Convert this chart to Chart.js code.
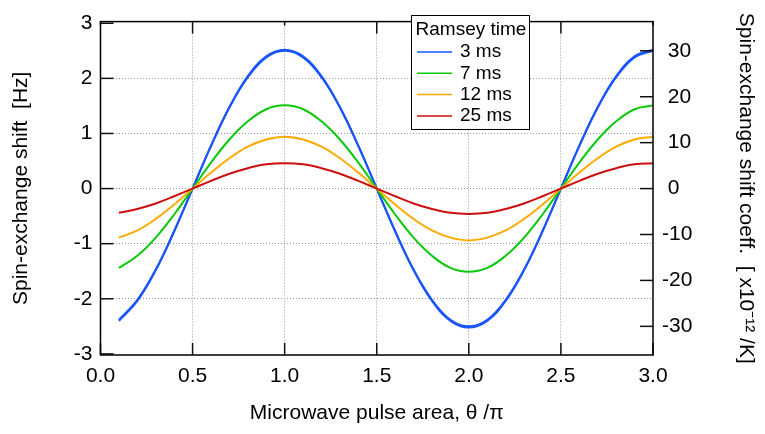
<!DOCTYPE html>
<html>
<head>
<meta charset="utf-8">
<script src="https://cdn.jsdelivr.net/npm/chart.js@4/dist/chart.umd.min.js"></script>
<style>
  html, body { margin: 0; padding: 0; background: #fff; }
</style>
</head>
<body>
<canvas id="chart" width="765" height="434"></canvas>
<script>
// pulse area theta/pi
const theta = [0.1, 0.2, 0.3, 0.4, 0.5, 0.6, 0.7, 0.8, 0.9, 1.0,
               1.1, 1.2, 1.3, 1.4, 1.5, 1.6, 1.7, 1.8, 1.9, 2.0,
               2.1, 2.2, 2.3, 2.4, 2.5, 2.6, 2.7, 2.8, 2.9, 3.0];

// spin-exchange shift [Hz]
const shift3ms = [-2.40, -2.04, -1.48, -0.78, 0, 0.78, 1.48, 2.04, 2.40, 2.52,
                  2.40, 2.04, 1.48, 0.78, 0, -0.78, -1.48, -2.04, -2.40, -2.52,
                  -2.40, -2.04, -1.48, -0.78, 0, 0.78, 1.48, 2.04, 2.40, 2.52];
// second (slightly lower) blue trace
const shift3msB = [-2.38, -2.02, -1.47, -0.77, 0, 0.77, 1.47, 2.02, 2.38, 2.50,
                   2.38, 2.02, 1.47, 0.77, 0, -0.77, -1.47, -2.02, -2.38, -2.50,
                   -2.38, -2.02, -1.47, -0.77, 0, 0.77, 1.47, 2.02, 2.38, 2.50];
const shift7ms = [-1.44, -1.22, -0.89, -0.47, 0, 0.47, 0.89, 1.22, 1.44, 1.51,
                  1.44, 1.22, 0.89, 0.47, 0, -0.47, -0.89, -1.22, -1.44, -1.51,
                  -1.44, -1.22, -0.89, -0.47, 0, 0.47, 0.89, 1.22, 1.44, 1.51];
const shift12ms = [-0.89, -0.76, -0.55, -0.29, 0, 0.29, 0.55, 0.76, 0.89, 0.94,
                   0.89, 0.76, 0.55, 0.29, 0, -0.29, -0.55, -0.76, -0.89, -0.94,
                   -0.89, -0.76, -0.55, -0.29, 0, 0.29, 0.55, 0.76, 0.89, 0.94];
const shift25ms = [-0.44, -0.37, -0.27, -0.14, 0, 0.14, 0.27, 0.37, 0.44, 0.46,
                   0.44, 0.37, 0.27, 0.14, 0, -0.14, -0.27, -0.37, -0.44, -0.46,
                   -0.44, -0.37, -0.27, -0.14, 0, 0.14, 0.27, 0.37, 0.44, 0.46];

const ramseyTimes = ['3 ms', '7 ms', '12 ms', '25 ms'];
const legendTitle = 'Ramsey time';

const xTicks = [0, 0.5, 1.0, 1.5, 2.0, 2.5, 3.0];
const yTicks = [-3, -2, -1, 0, 1, 2, 3];
const y2Ticks = [-30, -20, -10, 0, 10, 20, 30];

const colors = ['rgb(25,85,250)', 'rgb(10,200,10)', 'rgb(255,170,0)', 'rgb(205,15,15)'];
const FONT = "'Liberation Sans', Arial, sans-serif";

function toPoints(ys) {
  return theta.map((t, i) => ({ x: t, y: ys[i] }));
}

function lineSet(label, ys, color, order) {
  return {
    label: label,
    data: toPoints(ys),
    borderColor: color,
    borderWidth: 2,
    pointRadius: 0,
    tension: 0.4,
    fill: false,
    order: order,
  };
}

function gridColor(c, edges) {
  return edges.includes(c.tick.value) ? 'rgba(0,0,0,0)' : 'rgb(150,150,150)';
}

// frame, inward tick marks and boxed legend
const framePlugin = {
  id: 'frame',
  afterDraw(chart) {
    const { ctx, chartArea: a, scales } = chart;
    const line = (x1, y1, x2, y2) => {
      ctx.beginPath(); ctx.moveTo(x1, y1); ctx.lineTo(x2, y2); ctx.stroke();
    };
    ctx.save();
    ctx.strokeStyle = '#111';
    ctx.lineWidth = 1.5;
    scales.x.ticks.forEach(t => {
      const px = scales.x.getPixelForValue(t.value);
      line(px, a.bottom, px, a.bottom - 12);
      const half = Math.round(t.value * 2) % 2 === 1;
      line(px, a.top, px, a.top + (half ? 12 : 4));
    });
    scales.y.ticks.forEach(t => {
      const py = scales.y.getPixelForValue(t.value);
      line(a.left, py, a.left + 13, py);
    });
    scales.y2.ticks.forEach(t => {
      const py = scales.y2.getPixelForValue(t.value);
      line(a.right, py, a.right - 13, py);
    });
    ctx.strokeStyle = '#000';
    ctx.strokeRect(a.left, a.top, a.right - a.left, a.bottom - a.top);

    // legend
    const bx = 411, by = 15, bw = 118, bh = 114;
    ctx.fillStyle = '#fff';
    ctx.fillRect(bx, by, bw, bh);
    ctx.lineWidth = 1;
    ctx.strokeStyle = '#000';
    ctx.strokeRect(bx + 0.5, by + 0.5, bw, bh);
    ctx.font = '19px ' + FONT;
    ctx.fillStyle = '#000';
    ctx.textBaseline = 'middle';
    ctx.textAlign = 'center';
    ctx.fillText(legendTitle, bx + bw / 2 + 1, by + 15);
    ctx.textAlign = 'left';
    ramseyTimes.forEach((lab, i) => {
      const yy = by + 37 + i * 21.3;
      ctx.strokeStyle = colors[i];
      ctx.lineWidth = 1.5;
      line(bx + 6, yy, bx + 41, yy);
      ctx.fillText(lab, bx + 49, yy);
    });
    ctx.restore();
  }
};

new Chart(document.getElementById('chart'), {
  type: 'line',
  data: {
    datasets: [
      lineSet(ramseyTimes[0], shift3ms, colors[0], 5),
      lineSet('', shift3msB, colors[0], 4),
      lineSet(ramseyTimes[1], shift7ms, colors[1], 3),
      lineSet(ramseyTimes[2], shift12ms, colors[2], 2),
      lineSet(ramseyTimes[3], shift25ms, colors[3], 1),
    ],
  },
  options: {
    responsive: false,
    animation: false,
    layout: { padding: { top: 8, left: 0, right: 0, bottom: 0 } },
    plugins: { legend: { display: false }, tooltip: { enabled: false } },
    scales: {
      x: {
        type: 'linear',
        min: 0,
        max: 3,
        afterBuildTicks: s => { s.ticks = xTicks.map(v => ({ value: v })); },
        afterFit: s => { s.height = 79; },
        grid: { color: c => gridColor(c, [0, 3]), drawTicks: false, lineWidth: 1 },
        border: { display: false, dash: [1, 2] },
        ticks: {
          padding: 9,
          color: '#000',
          font: { family: FONT, size: 21 },
          callback: v => Number(v).toFixed(1),
          maxRotation: 0,
        },
        title: {
          display: true,
          text: 'Microwave pulse area, θ /π',
          color: '#000',
          font: { family: FONT, size: 21 },
          padding: 8,
        },
      },
      y: {
        position: 'left',
        min: -3.02,
        max: 3.03,
        afterBuildTicks: s => { s.ticks = yTicks.map(v => ({ value: v })); },
        afterFit: s => { s.width = 100.5; },
        grid: { color: c => gridColor(c, [-3, 3]), drawTicks: false, lineWidth: 1 },
        border: { display: false, dash: [1, 2] },
        ticks: {
          padding: 8,
          color: '#000',
          font: { family: FONT, size: 21 },
          callback: v => String(v),
        },
        title: {
          display: true,
          text: 'Spin-exchange shift  [Hz]',
          color: '#000',
          font: { family: FONT, size: 21 },
          padding: 9,
        },
      },
      y2: {
        position: 'right',
        min: -36.24,
        max: 36.36,
        afterBuildTicks: s => { s.ticks = y2Ticks.map(v => ({ value: v })); },
        afterFit: s => { s.width = 112; },
        grid: { display: false, drawTicks: false },
        border: { display: false },
        ticks: {
          padding: 9,
          color: '#000',
          font: { family: FONT, size: 21 },
          callback: v => (v < 0 ? String(v) : ' ' + v),
        },
        title: {
          display: true,
          text: 'Spin-exchange shift coeff.  [ x10⁻¹² /K]',
          color: '#000',
          font: { family: FONT, size: 21 },
          padding: 7,
        },
      },
    },
  },
  plugins: [framePlugin],
});
</script>
</body>
</html>
